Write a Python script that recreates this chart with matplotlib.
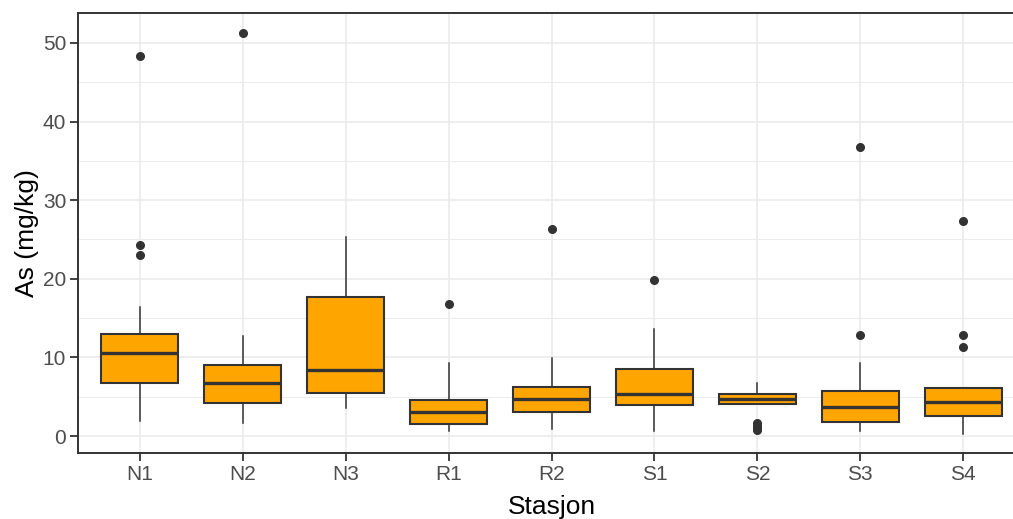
import matplotlib
matplotlib.use("Agg")
import matplotlib.pyplot as plt
from matplotlib.ticker import MultipleLocator

plt.rcParams['font.family'] = ['Liberation Sans', 'DejaVu Sans']

stasjoner = ['N1', 'N2', 'N3', 'R1', 'R2', 'S1', 'S2', 'S3', 'S4']
whislo = [1.9, 1.7, 3.5, 0.7, 0.85, 0.7, 4.1, 0.7, 0.25]
q1 = [6.7, 4.2, 5.5, 1.5, 3.0, 3.9, 4.1, 1.8, 2.6]
med = [10.5, 6.7, 8.4, 3.1, 4.7, 5.4, 4.75, 3.7, 4.3]
q3 = [13.0, 9.0, 17.7, 4.6, 6.2, 8.5, 5.4, 5.7, 6.05]
whishi = [16.4, 12.7, 25.3, 9.3, 9.9, 13.6, 6.8, 9.3, 6.05]
utliggere = [[48.3, 24.3, 23.0], [51.2], [], [16.8], [26.3], [19.8],
             [1.6, 1.3, 1.0, 0.8], [36.7, 12.8], [27.4, 12.8, 11.3]]

stats = []
for i in range(len(stasjoner)):
    stats.append(dict(label=stasjoner[i], whislo=whislo[i], q1=q1[i], med=med[i],
                      q3=q3[i], whishi=whishi[i], fliers=utliggere[i]))

fig = plt.figure(figsize=(10.13, 5.19), dpi=100)
ax = fig.add_axes([78/1013, 66/519, (1025-78)/1013, (453-13)/519])

farge = '#333333'
ax.bxp(stats, positions=range(1, 10), widths=0.75, patch_artist=True, showcaps=False,
       boxprops=dict(facecolor='#FFA500', edgecolor=farge, linewidth=1.5),
       medianprops=dict(color=farge, linewidth=2.4),
       whiskerprops=dict(color=farge, linewidth=1.1),
       flierprops=dict(marker='o', markerfacecolor=farge, markeredgecolor=farge,
                       markersize=5.5))

ax.set_xlim(0.4, 9.6)
ax.set_ylim(-2.16, 53.8)
ax.yaxis.set_major_locator(MultipleLocator(10))
ax.yaxis.set_minor_locator(MultipleLocator(5))
ax.set_axisbelow(True)
ax.grid(which='major', color='#EBEBEB', linewidth=1.2)
ax.grid(which='minor', axis='y', color='#EBEBEB', linewidth=0.7)
ax.tick_params(which='minor', length=0)
ax.tick_params(which='major', length=5.5, width=1.3, color=farge,
               labelsize=15, labelcolor='#4D4D4D', pad=3)
for s in ax.spines.values():
    s.set_color(farge)
    s.set_linewidth(1.4)

ax.set_xlabel('Stasjon', fontsize=19, color='black', labelpad=8)
ax.set_ylabel('As (mg/kg)', fontsize=19, color='black', labelpad=3)

fig.savefig('out.png', dpi=100)
